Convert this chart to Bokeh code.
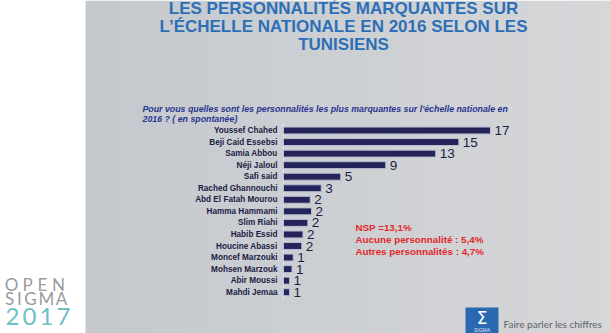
import numpy as np
from bokeh.plotting import figure
from bokeh.models import Range1d, ColumnDataSource
from bokeh.core.properties import value
from bokeh.embed import file_html
from bokeh.resources import INLINE

# ---- data -------------------------------------------------------------
names = ["Youssef Chahed", "Beji Caid Essebsi", "Samia Abbou", "Néji Jaloul",
         "Safi said", "Rached Ghannouchi", "Abd El Fatah Mourou", "Hamma Hammami",
         "Slim Riahi", "Habib Essid", "Houcine Abassi", "Moncef Marzouki",
         "Mohsen Marzouk", "Abir Moussi", "Mahdi Jemaa"]
values = [17.0, 14.4, 12.5, 8.4, 4.7, 3.1, 2.2, 2.3, 2.0, 1.6, 1.5, 0.8, 0.7, 0.5, 0.5]
value_labels = ["17", "15", "13", "9", "5", "3", "2", "2", "2", "2", "2", "1", "1", "1", "1"]
title_lines = ["LES PERSONNALITÉS MARQUANTES SUR",
               "L’ÉCHELLE NATIONALE EN 2016 SELON LES",
               "TUNISIENS"]
question_lines = ["Pour vous quelles sont  les personnalités les plus marquantes sur l'échelle nationale en",
                  "2016 ? ( en spontanée)"]
notes = ["NSP =13,1%", "Aucune personnalité : 5,4%", "Autres personnalités : 4,7%"]

# ---- layout constants -------------------------------------------------
W, H = 610, 333
AXIS_X = 283.0          # pixel of value 0
PX_PER_UNIT = 207.0 / 17.0
FIRST_Y = 130.0         # pixel centre of first bar
STEP = 11.55            # pixel step between bars

p = figure(width=W, height=H, x_range=Range1d(0, W), y_range=Range1d(H, 0),
           min_border=0, toolbar_location=None, output_backend="svg",
           x_axis_type=None, y_axis_type=None, outline_line_color=None,
           background_fill_color="white", border_fill_color="white")

p.extra_x_ranges = {"val": Range1d(-AXIS_X / PX_PER_UNIT, (W - AXIS_X) / PX_PER_UNIT)}
p.extra_y_ranges = {"cat": Range1d((H - FIRST_Y) / STEP, -FIRST_Y / STEP)}

# background gradient panel
n = 64
c0 = np.array([197, 201, 206]); c1 = np.array([214, 215, 217])
img = np.zeros((2, n), dtype=np.uint32)
view = img.view(dtype=np.uint8).reshape((2, n, 4))
for i in range(n):
    t = i / (n - 1)
    c = (c0 * (1 - t) + c1 * t).astype(np.uint8)
    view[:, i, 0] = c[0]; view[:, i, 1] = c[1]; view[:, i, 2] = c[2]; view[:, i, 3] = 255
p.image_rgba(image=[img], x=85, y=0, dw=W - 85, dh=H)

# title
for k, line in enumerate(title_lines):
    p.text(x=[343], y=[7.5 + 18.3 * k], text=[line], text_align="center",
           text_baseline="middle", text_font=value("Liberation Sans"),
           text_font_style="bold", text_font_size="17px", text_color="#2d6fb7")

# question
for k, line in enumerate(question_lines):
    p.text(x=[142], y=[108.5 + 10 * k], text=[line], text_align="left",
           text_baseline="middle", text_font=value("Liberation Sans"),
           text_font_style="bold italic", text_font_size="8.8px", text_color="#2a3590")

# bars
idx = list(range(len(names)))
src = ColumnDataSource(dict(y=idx, v=values, name=names, lab=value_labels))
p.segment(x0=[0], x1=[0], y0=[-0.65], y1=[len(names) - 0.35], line_color="#e6e8ee",
          line_width=1, x_range_name="val", y_range_name="cat")
p.hbar(y="y", left=0, right="v", height=0.6, source=src, fill_color="#24245a",
       line_color="#b9bdd2", line_width=1, x_range_name="val", y_range_name="cat")
p.text(x=0, y="y", text="name", source=src, x_offset=-6, text_align="right",
       text_baseline="middle", text_font=value("Liberation Sans"), text_font_style="bold",
       text_font_size="8.2px", text_color="#1c1c44", x_range_name="val", y_range_name="cat")
p.text(x="v", y="y", text="lab", source=src, x_offset=4, text_align="left",
       text_baseline="middle", text_font=value("Liberation Sans"),
       text_font_size="13.5px", text_color="#1e1e42", x_range_name="val", y_range_name="cat")

# red notes
for k, line in enumerate(notes):
    p.text(x=[355], y=[227 + 12 * k], text=[line], text_align="left",
           text_baseline="middle", text_font=value("Liberation Sans"),
           text_font_style="bold", text_font_size="9.8px", text_color="#e3262a")

# OPEN SIGMA 2017 logo (letter-spaced)
p.text(x=[11, 27, 42, 58], y=[284] * 4, text=list("OPEN"), text_align="center",
       text_baseline="middle", text_font=value("Lato"), text_font_size="17px",
       text_color="#979ba1")
p.text(x=[9, 19, 30, 46, 61], y=[298] * 5, text=list("SIGMA"), text_align="center",
       text_baseline="middle", text_font=value("Lato"), text_font_size="17px",
       text_color="#979ba1")
p.text(x=[12, 29, 46, 63], y=[316] * 4, text=list("2017"), text_align="center",
       text_baseline="middle", text_font=value("Lato"), text_font_size="24px",
       text_color="#6cc0c4")

# footer logo
p.quad(left=[465], right=[498], top=[307], bottom=[333], fill_color="#2a69b1", line_color=None)
p.text(x=[481.5], y=[317], text=["Σ"], text_align="center", text_baseline="middle",
       text_font=value("DejaVu Sans"), text_font_size="17px", text_color="white")
p.text(x=[481.5], y=[329.5], text=["SIGMA"], text_align="center", text_baseline="middle",
       text_font=value("Liberation Sans"), text_font_size="5px", text_color="#dce6f4")
p.text(x=[503], y=[323], text=["Faire parler les chiffres"], text_align="left",
       text_baseline="middle", text_font=value("Lato"), text_font_size="10px",
       text_color="#60646b")

open("out.html", "w").write(file_html(p, INLINE))
